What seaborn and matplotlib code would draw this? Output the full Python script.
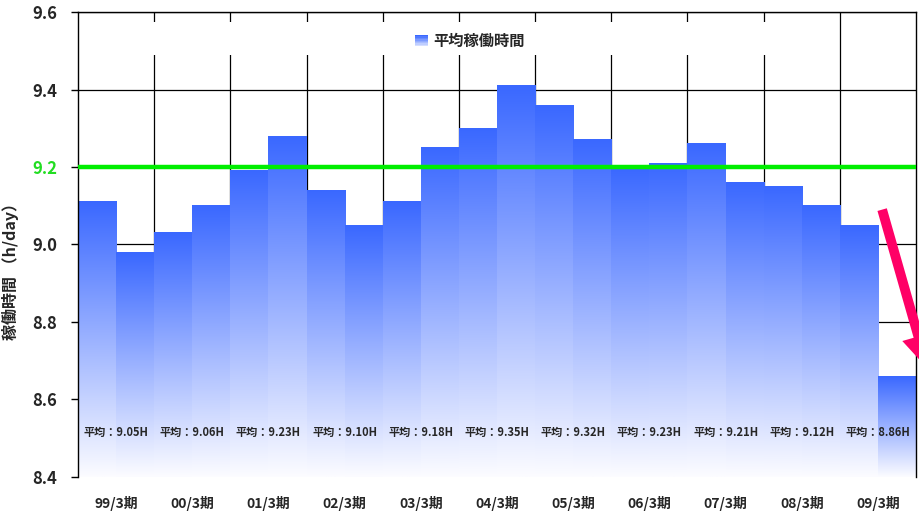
import numpy as np
import pandas as pd
import seaborn as sns
import matplotlib
matplotlib.use("Agg")
import matplotlib.pyplot as plt
from matplotlib.colors import LinearSegmentedColormap
from matplotlib.patches import Patch, Rectangle
from matplotlib.legend_handler import HandlerBase

# data (two half-year bars per fiscal year)
years = ["99/3期", "00/3期", "01/3期", "02/3期", "03/3期", "04/3期",
         "05/3期", "06/3期", "07/3期", "08/3期", "09/3期"]
halves = ["上", "下"]
hours = [9.11, 8.98, 9.03, 9.10, 9.19, 9.28, 9.14, 9.05, 9.11, 9.25, 9.30,
         9.41, 9.36, 9.27, 9.20, 9.21, 9.26, 9.16, 9.15, 9.10, 9.05, 8.66]
year_avg = [9.05, 9.06, 9.23, 9.10, 9.18, 9.35, 9.32, 9.23, 9.21, 9.12, 8.86]
target = 9.2

periods = [f"{y}{h}" for y in years for h in halves]
df = pd.DataFrame({"period": periods, "hours": hours})

sns.set_theme(style="ticks")
plt.rcParams["font.family"] = ["Noto Sans CJK JP", "DejaVu Sans"]

BLUE = "#3a68ff"
grad_cmap = LinearSegmentedColormap.from_list("grad", ["#fcfcff", BLUE])
ymin, ymax = 8.4, 9.6

fig = plt.figure(figsize=(9.2, 5.13), dpi=100)
ax = fig.add_axes([0.0848, 0.0702, 0.9109, 0.9064])

sns.barplot(data=df, x="period", y="hours", color=BLUE, width=1.0,
            saturation=1, ax=ax, zorder=2)

# replace flat bars with a vertical gradient (blue top -> white bottom)
grad = np.linspace(0, 1, 256).reshape(-1, 1)
for bar in ax.patches:
    x0 = bar.get_x()
    top = bar.get_y() + bar.get_height()
    ax.imshow(grad, extent=[x0, x0 + bar.get_width(), ymin, top],
              origin="lower", aspect="auto", cmap=grad_cmap, zorder=2)
    bar.set_visible(False)

ax.set_xlim(-0.5, len(hours) - 0.5)
ax.set_ylim(ymin, ymax)

# grid
yt = np.round(np.arange(ymin, ymax + 0.01, 0.2), 1)
ax.set_yticks(yt)
ax.set_yticklabels([f"{v:.1f}" for v in yt], fontsize=12, fontweight="bold")
for lab, v in zip(ax.get_yticklabels(), yt):
    if np.isclose(v, target):
        lab.set_color("#22dd22")
ax.yaxis.grid(True, color="black", lw=0.9)
ax.get_ygridlines()[0].set_visible(False)

ax.set_xticks(np.arange(0.5, len(hours), 2))
ax.set_xticklabels(years, fontsize=10, fontweight="bold")
ax.set_xticks(np.arange(1.5, len(hours) - 1, 2), minor=True)
ax.xaxis.grid(True, which="minor", color="black", lw=0.9)
ax.xaxis.grid(False, which="major")
ax.tick_params(axis="x", which="both", length=0, pad=14)
ax.tick_params(axis="y", length=5, width=1, color="black", pad=10)
ax.set_axisbelow(True)

for side in ["left", "right", "top"]:
    ax.spines[side].set_visible(True)
    ax.spines[side].set_color("black")
    ax.spines[side].set_linewidth(1)
ax.spines["bottom"].set_visible(False)

ax.set_xlabel("")
ax.set_ylabel("稼働時間 （h/day）", fontsize=11.5, fontweight="bold", labelpad=6)
ax.yaxis.set_label_coords(-0.07, 0.45)

# target line
ax.axhline(target, color="#00ee00", lw=3.2, zorder=4)

# yearly averages
for i, v in enumerate(year_avg):
    ax.text(2 * i + 0.5, 8.515, f"平均：{v:.2f}H", ha="center", va="center",
            fontsize=8, fontweight="bold", zorder=5)

# drop arrow
ax.annotate("", xy=(21.8, 8.68), xytext=(20.61, 9.09),
            arrowprops=dict(facecolor="#ff0066", edgecolor="none", width=7,
                            headwidth=24, headlength=24, shrink=0),
            annotation_clip=False, zorder=6)

# legend
class GradHandler(HandlerBase):
    def create_artists(self, legend, orig_handle, xdescent, ydescent,
                       width, height, fontsize, trans):
        n = 8
        return [Rectangle((-xdescent, -ydescent + height * k / n), width,
                          height / n, facecolor=grad_cmap(k / (n - 1) * 0.8 + 0.2),
                          edgecolor="none", transform=trans)
                for k in range(n)]

ax.add_patch(Rectangle((0.074, 0.9075), 0.83, 0.07, transform=ax.transAxes,
                       facecolor="white", edgecolor="none", zorder=3))
h = Patch()
ax.legend([h], ["平均稼働時間"], handler_map={Patch: GradHandler()},
          loc="center", bbox_to_anchor=(0.468, 0.938), frameon=False,
          handlelength=0.8, handleheight=0.8, handletextpad=0.4,
          prop={"size": 11, "weight": "bold"})

fig.savefig("out.png", dpi=100)
